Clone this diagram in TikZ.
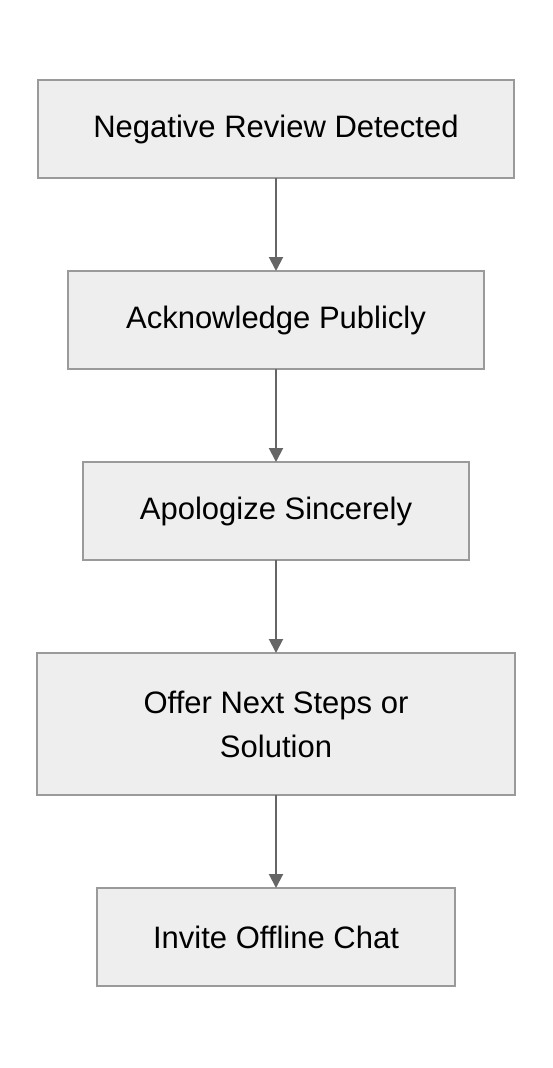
\documentclass[tikz,border=0pt]{standalone}
\usepackage{fontspec}
\setmainfont{Liberation Sans}
\usepackage{tikz}
\usetikzlibrary{arrows.meta, positioning}
\definecolor{boxfill}{HTML}{EEEEEE}
\definecolor{boxline}{HTML}{9A9A9A}
\definecolor{arrowgray}{HTML}{666666}

\begin{document}
\begin{tikzpicture} [x = 1pt, y = 1pt, node distance = 93pt,
	stage/.style = {draw = boxline, fill = boxfill, line width = 1.4pt, minimum height = 98pt, inner sep = 0pt,
	outer sep = 0pt, text = black, font = \fontsize{31}{44}\selectfont},
	flow/.style = {-{Triangle[length = 14pt, width = 14pt]}, arrowgray, line width = 2pt}]
			% Page frame
			\useasboundingbox (0,0) rectangle (552,-1068);
			% Start Node : Every other node hangs below this one
			\node (detected) [stage, minimum width = 476pt] at (276,-129) {Negative Review Detected};

			\node (acknowledge) [stage, minimum width = 416pt, below = of detected] {Acknowledge Publicly};

			\node (apologize) [stage, minimum width = 386pt, below = of acknowledge] {Apologize Sincerely};

			\node (offer) [stage, minimum width = 478pt, minimum height = 142pt, align = center, below = of
			apologize] {Offer Next Steps or\\Solution};

			% Final Node
			\node (invite) [stage, minimum width = 358pt, below = of offer] {Invite Offline Chat};
			% Draw Arrows/Connections
			\path [flow]
			(detected) edge (acknowledge)
			(acknowledge) edge (apologize)
			(apologize) edge (offer)
			(offer) edge (invite);
		\end{tikzpicture}
\end{document}
